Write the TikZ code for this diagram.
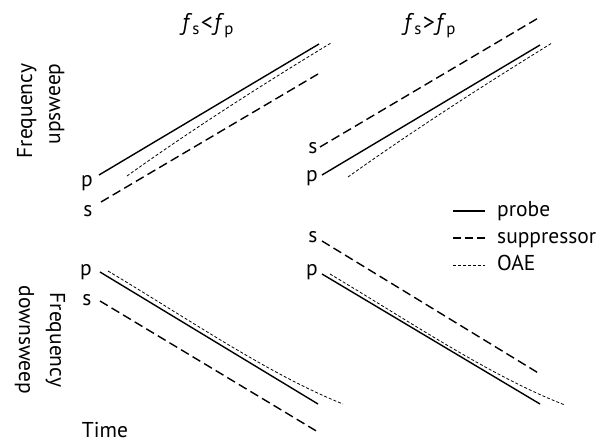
\documentclass[tikz,border=0pt]{standalone}
\usepackage{fontspec}
\setmainfont{PT Sans}
\tikzset{
  probe/.style={line width=1.4pt},
  suppr/.style={line width=1.4pt, dash pattern=on 9pt off 4.5pt},
  oae/.style={line width=0.8pt, dash pattern=on 3pt off 2pt},
  lbl/.style={font=\fontsize{21.5}{26}\selectfont, inner sep=0pt, anchor=base},
  title/.style={lbl, font=\fontsize{24}{28}\selectfont}
}
\begin{document}
\begin{tikzpicture}[x=1pt, y=-1pt]
  \useasboundingbox (0,0) rectangle (602,444);
  % column titles
  \node[title] (tleft) at (208,31) {\textit{f}\textsubscript{s}\kern1pt<\kern1pt\textit{f}\textsubscript{p}};
  \node[title] (tright) at (430,31) {\textit{f}\textsubscript{s}\kern1pt>\kern1pt\textit{f}\textsubscript{p}};
  % row titles
  \node[lbl, rotate=90] (up1) at (32,111) {Frequency};
  \node[lbl, rotate=90] (up2) at (60,104) {upsweep};
  \node[lbl, rotate=-90] (dn1) at (50,340) {Frequency};
  \node[lbl, rotate=-90] (dn2) at (19,340) {downsweep};
  \node[lbl] (time) at (105,437) {Time};
  % upsweep, fs < fp
  \node[lbl] (pul) at (87,186) {p};
  \node[lbl] (sul) at (88,216) {s};
  \draw[probe] (99,175) -- (319,44);
  \draw[suppr] (101,202) -- (318,74);
  \draw[oae] (127,176) .. controls (180,138) and (250,92) .. (331,43);
  % upsweep, fs > fp
  \node[lbl] (sur) at (313,153) {s};
  \node[lbl] (pur) at (312,181) {p};
  \draw[probe] (322,175) -- (540,45);
  \draw[suppr] (320,147) -- (540,17);
  \draw[oae] (348,177) .. controls (401,139) and (471,93) .. (552,43);
  % downsweep, fs < fp
  \node[lbl] (pdl) at (86,275) {p};
  \node[lbl] (sdl) at (87,305) {s};
  \draw[probe] (100,272) -- (318,404);
  \draw[suppr] (100,301) -- (318,432);
  \draw[oae] (108,271) .. controls (190,320) and (270,375) .. (343,404);
  % downsweep, fs > fp
  \node[lbl] (sdr) at (313,242) {s};
  \node[lbl] (pdr) at (312,275) {p};
  \draw[probe] (322,274) -- (540,404);
  \draw[suppr] (322,241) -- (540,374);
  \draw[oae] (330,274) .. controls (412,323) and (492,377) .. (565,405);
  % legend
  \node[lbl, anchor=base west] (lprobe) at (497,216) {probe};
  \node[lbl, anchor=base west] (lsuppr) at (497,243) {suppressor};
  \node[lbl, anchor=base west] (loae) at (497,270) {OAE};
  \draw[probe] (453,211) -- (485,211);
  \draw[suppr, dash pattern=on 8pt off 4pt] (453,238) -- (485,238);
  \draw[oae] (453,265) -- (485,265);
\end{tikzpicture}
\end{document}
